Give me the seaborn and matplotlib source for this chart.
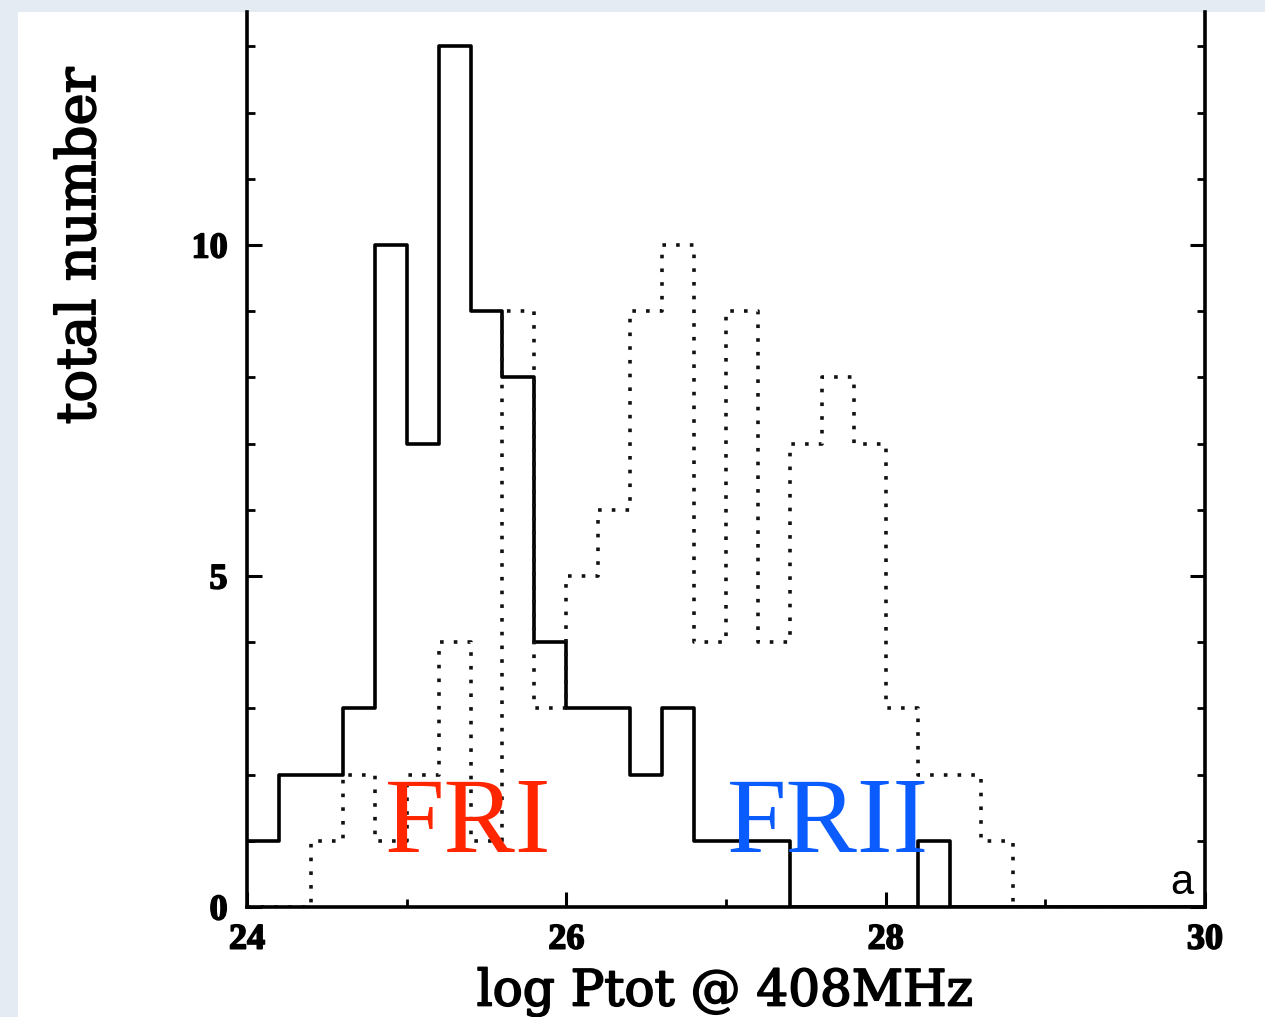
import numpy as np
import pandas as pd
import matplotlib
matplotlib.use("Agg")
import matplotlib.pyplot as plt
import matplotlib.patheffects as pe
import seaborn as sns
from matplotlib.patches import Rectangle
from matplotlib.ticker import FixedLocator

# ---------------- data ----------------
bin_width = 0.2
bin_edges = [round(v, 1) for v in np.arange(24.0, 30.0 + 1e-9, bin_width)]
fri_counts = [1, 2, 2, 3, 10, 7, 13, 9, 8, 4, 3, 3, 2, 3, 1,
              1, 1, 0, 0, 0, 0, 1, 0, 0, 0, 0, 0, 0, 0, 0]
frii_counts = [0, 0, 1, 2, 1, 2, 4, 1, 9, 3, 5, 6, 9, 10, 4,
               9, 4, 7, 8, 7, 3, 2, 2, 1, 0, 0, 0, 0, 0, 0]
x_ticks = [24, 26, 28, 30]
x_tick_labels = ["24", "26", "28", "30"]
x_minor = [25, 27, 29]
y_ticks = [0, 5, 10]
y_tick_labels = ["0", "5", "10"]
y_minor = [1, 2, 3, 4, 6, 7, 8, 9, 11, 12, 13]

centers = [e + bin_width / 2 for e in bin_edges[:-1]]
df_fri = pd.DataFrame({"logP": centers, "n": fri_counts})
df_frii = pd.DataFrame({"logP": centers, "n": frii_counts})

# ---------------- style ----------------
sns.set_style("ticks")
plt.rcParams["font.family"] = ["DejaVu Serif", "DejaVu Sans"]
plt.rcParams["text.color"] = "black"
plt.rcParams["xtick.color"] = "black"
plt.rcParams["ytick.color"] = "black"

W, H = 1265, 1017
fig = plt.figure(figsize=(W / 100, H / 100), dpi=100)
fig.patch.set_facecolor("#e4ebf3")
fig.patches.append(Rectangle((18 / W, 0), 1, 1 - 12 / H, transform=fig.transFigure,
                             facecolor="white", edgecolor="none", zorder=-1))

ax = fig.add_axes([247 / W, 1 - 907 / H, (1205 - 247) / W, (907 - 12) / H])
ax.set_facecolor("white")

sns.histplot(data=df_fri, x="logP", weights="n", bins=bin_edges, element="step",
             fill=False, color="black", linewidth=2.6, ax=ax)
sns.histplot(data=df_frii, x="logP", weights="n", bins=bin_edges, element="step",
             fill=False, color="#111111", linewidth=2.6, linestyle=(0, (1, 2.8)),
             ax=ax)

ax.set_xlim(24, 30)
ax.set_ylim(0, (907 - 12) / 66.2)

for side in ["left", "right", "bottom"]:
    ax.spines[side].set_linewidth(2.6)
    ax.spines[side].set_color("black")
ax.spines["top"].set_visible(False)

ax.xaxis.set_major_locator(FixedLocator(x_ticks))
ax.set_xticklabels(x_tick_labels)
ax.xaxis.set_minor_locator(FixedLocator(x_minor))
ax.yaxis.set_major_locator(FixedLocator(y_ticks))
ax.set_yticklabels(y_tick_labels)
ax.yaxis.set_minor_locator(FixedLocator(y_minor))

ax.tick_params(which="both", direction="in", left=True, right=True, top=False,
               bottom=True, color="black", labelcolor="black")
ax.tick_params(which="major", length=11, width=2.2)
ax.tick_params(which="minor", length=6, width=2.0)
ax.tick_params(axis="y", which="major", pad=14)
ax.tick_params(axis="x", which="major", pad=12)
for lab in ax.get_xticklabels() + ax.get_yticklabels():
    lab.set_fontfamily("Liberation Serif")
    lab.set_fontweight("bold")
    lab.set_fontsize(26)
    lab.set_path_effects([pe.withStroke(linewidth=1.2, foreground="black")])

ax.set_xlabel("")
ax.set_ylabel("")
thick = [pe.withStroke(linewidth=1.3, foreground="black")]
fig.text(725 / W, 1 - 992 / H, "log Ptot @ 408MHz", ha="center", va="center",
         fontsize=36, fontfamily="DejaVu Serif", color="black", path_effects=thick)
fig.text(80 / W, 1 - 246 / H, "total number", ha="center", va="center",
         rotation=90, fontsize=39, fontfamily="DejaVu Serif", color="black",
         path_effects=thick)

ax.text(24.864, 0.83, "FRI", color="#ff2600", fontsize=77,
        fontfamily="Liberation Serif", ha="left", va="baseline")
ax.text(27.006, 0.83, "FRII", color="#0a5cff", fontsize=77,
        fontfamily="Liberation Serif", ha="left", va="baseline")
ax.text(29.93, 0.2, "a", color="black", fontsize=30,
        fontfamily="Liberation Sans", ha="right", va="baseline")

fig.savefig("out.png", dpi=100, facecolor=fig.get_facecolor())
